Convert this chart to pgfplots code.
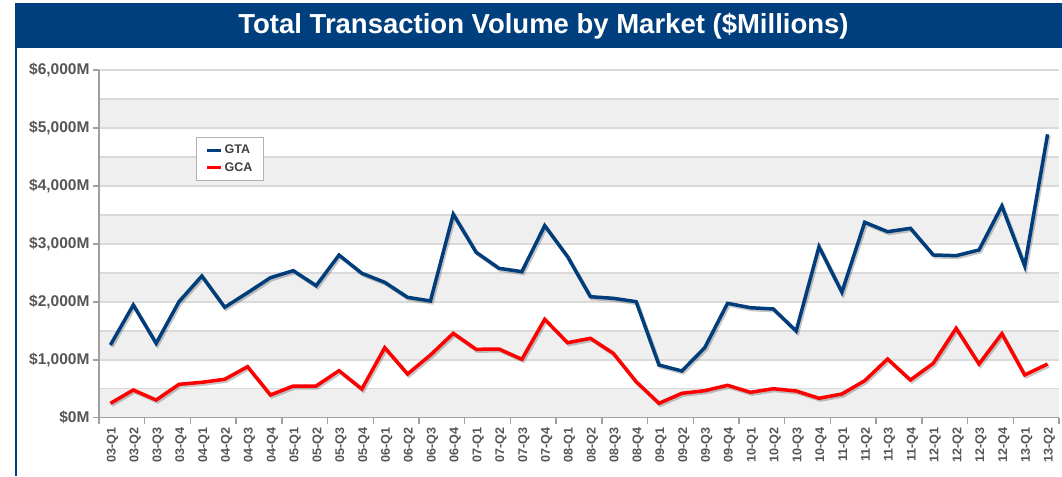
\documentclass[border=0pt]{standalone}
\usepackage{fontspec}
\setmainfont{Liberation Sans}
\usepackage{pgfplots}
\pgfplotsset{compat=1.18}
\usepackage{pgfplotstable}
\definecolor{titleblue}{RGB}{0,63,125}
\definecolor{gtablue}{RGB}{0,61,122}
\definecolor{gcared}{RGB}{255,0,0}
\definecolor{band}{RGB}{239,239,239}
\definecolor{gridc}{RGB}{218,218,218}
\definecolor{axisc}{RGB}{160,160,160}
\definecolor{lbl}{RGB}{85,85,85}

\pgfplotstableread{
x gta gca
0 1255 248
1 1945 478
2 1283 305
3 2002 576
4 2445 611
5 1905 663
6 2157 880
7 2416 392
8 2537 547
9 2278 547
10 2806 811
11 2492 495
12 2336 1208
13 2077 754
14 2014 1082
15 3510 1456
16 2854 1180
17 2578 1185
18 2520 1008
19 3314 1698
20 2779 1294
21 2088 1370
22 2060 1111
23 2002 621
24 909 248
25 806 421
26 1208 466
27 1974 559
28 1898 438
29 1876 500
30 1496 461
31 2951 335
32 2164 409
33 3372 639
34 3210 1013
35 3268 651
36 2808 939
37 2796 1543
38 2894 927
39 3653 1450
40 2618 737
41 4890 927
}\data

\begin{document}
\begin{tikzpicture}
\path (0pt,0pt) rectangle (1062pt,476pt);
\fill[titleblue] (15pt,428pt) rectangle (1062pt,473pt);
\draw[titleblue, line width=1.5pt] (16pt,0pt) -- (16pt,428pt);
\node[text=white, font=\bfseries\fontsize{27.5}{30}\selectfont] at (543.5pt,450pt) {Total Transaction Volume by Market (\$Millions)};
\begin{axis}[
  set layers,
  at={(99pt,58.3pt)}, anchor=south west,
  scale only axis, width=960pt, height=347.7pt,
  xmin=-0.5, xmax=41.5, ymin=0, ymax=6000,
  axis x line=bottom, axis y line=left,
  axis line style={-, draw=axisc, line width=1.5pt},
  xtick={0,...,41},
  xticklabels={03-Q1,03-Q2,03-Q3,03-Q4,04-Q1,04-Q2,04-Q3,04-Q4,05-Q1,05-Q2,05-Q3,05-Q4,06-Q1,06-Q2,06-Q3,06-Q4,07-Q1,07-Q2,07-Q3,07-Q4,08-Q1,08-Q2,08-Q3,08-Q4,09-Q1,09-Q2,09-Q3,09-Q4,10-Q1,10-Q2,10-Q3,10-Q4,11-Q1,11-Q2,11-Q3,11-Q4,12-Q1,12-Q2,12-Q3,12-Q4,13-Q1,13-Q2},
  minor xtick={-0.5,1.5,...,41.5},
  ytick={0,1000,...,6000},
  yticklabels={\$0M,{\$1,000M},{\$2,000M},{\$3,000M},{\$4,000M},{\$5,000M},{\$6,000M}},
  minor ytick={500,1500,...,5500},
  ymajorgrids, yminorgrids,
  major grid style={draw=gridc, line width=1.5pt},
  minor grid style={draw=gridc, line width=1.5pt},
  tick align=outside,
  major tick length=6pt, minor tick length=6pt,
  major x tick style={draw=none},
  minor y tick style={draw=none},
  tick style={draw=axisc, line width=1.5pt},
  xticklabel style={rotate=90, anchor=east, yshift=-2pt, font=\bfseries\fontsize{12.6}{14}\selectfont, text=lbl},
  yticklabel style={font=\bfseries\fontsize{15.5}{17}\selectfont, text=lbl},
  legend style={at={(0.1007,0.808)}, anchor=north west, draw=gray!60, line width=0.8pt, fill=white,
    font=\bfseries\fontsize{12.5}{14}\selectfont, text=black!75, inner xsep=9pt, inner ysep=6pt,
    row sep=3pt},
  legend cell align=left,
  legend image code/.code={\draw[#1, line width=3.5pt] (0pt,0pt) -- (14pt,0pt);},
]
\begin{pgfonlayer}{axis background}
\fill[band] (axis cs:-0.5,0) rectangle (axis cs:41.5,500);
\fill[band] (axis cs:-0.5,1000) rectangle (axis cs:41.5,1500);
\fill[band] (axis cs:-0.5,2000) rectangle (axis cs:41.5,2500);
\fill[band] (axis cs:-0.5,3000) rectangle (axis cs:41.5,3500);
\fill[band] (axis cs:-0.5,4000) rectangle (axis cs:41.5,4500);
\fill[band] (axis cs:-0.5,5000) rectangle (axis cs:41.5,5500);
\end{pgfonlayer}
\addplot[forget plot, black, opacity=0.22, line width=3.5pt, xshift=1.5pt, yshift=-1.8pt] table[x=x,y=gta]{\data};
\addplot[forget plot, black, opacity=0.22, line width=3.5pt, xshift=1.5pt, yshift=-1.8pt] table[x=x,y=gca]{\data};
\addplot[gtablue, line width=3.5pt] table[x=x,y=gta]{\data};
\addplot[gcared, line width=3.5pt] table[x=x,y=gca]{\data};
\legend{GTA,GCA}
\end{axis}
\end{tikzpicture}
\end{document}
